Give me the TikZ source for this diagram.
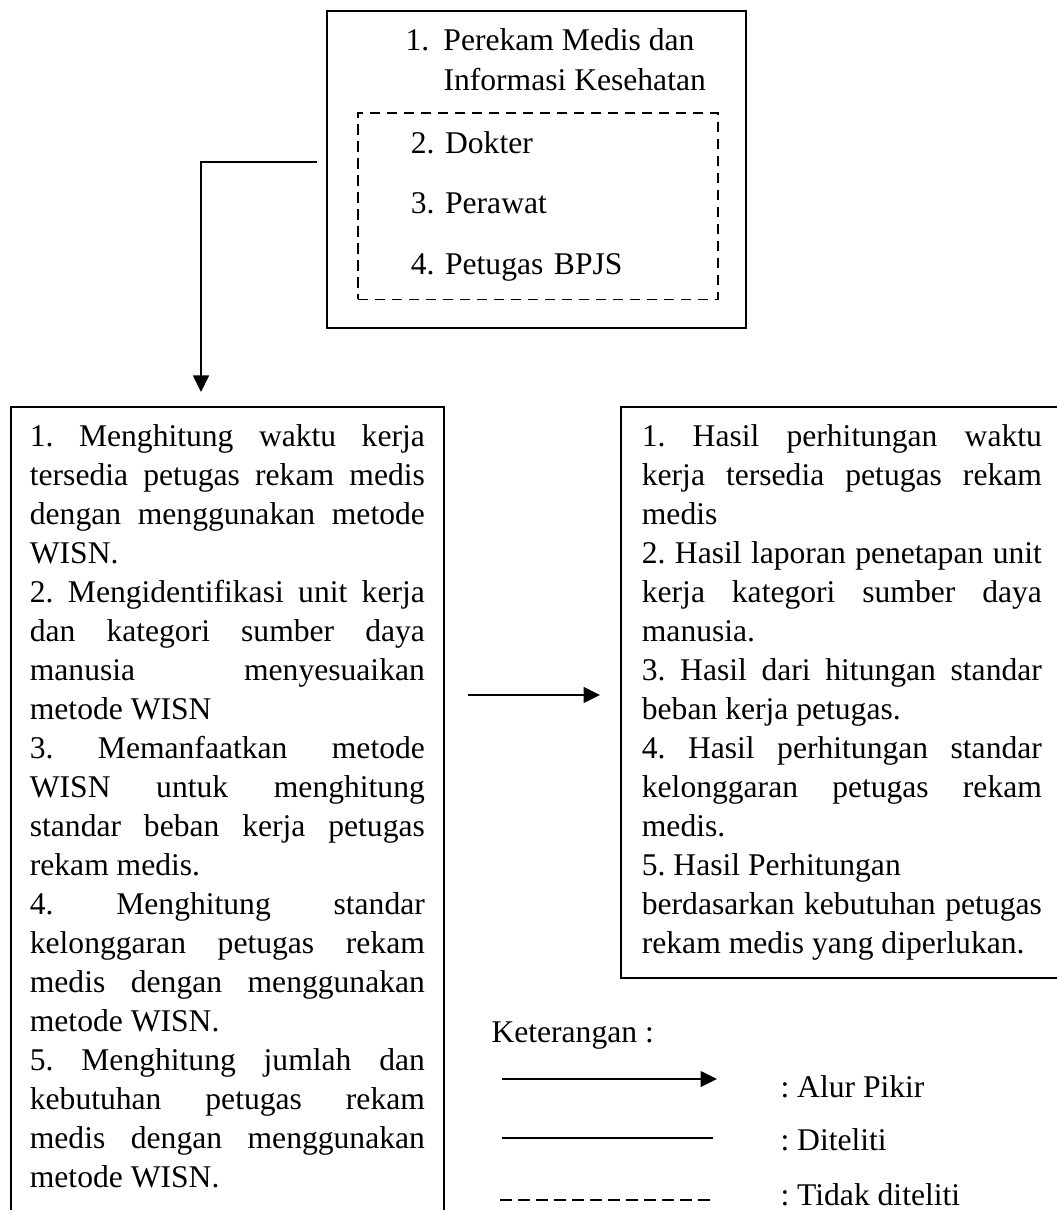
\documentclass[tikz,border=0pt]{standalone}
\usepackage{fontspec}
\setmainfont{Liberation Serif}
\usetikzlibrary{arrows.meta}
\setlength{\parindent}{0pt}
\frenchspacing
\hyphenpenalty=10000
\exhyphenpenalty=10000
\tolerance=10000
\hbadness=10000

\begin{document}
\begin{tikzpicture}[x=0.4pt, y=-0.4pt,
            box/.style={draw, line width=0.7pt},
            dashbox/.style={draw, line width=0.7pt, dash pattern=on 4.2pt off 2.6pt},
            listbox/.style={box, anchor=north west, align=justify, inner ysep=7pt},
            flow/.style={-{Triangle[length=6.6pt,width=6.2pt]}, line width=1.05pt},
            legtext/.style={anchor=base west, inner sep=0pt},
            every node/.append style={font=\fontsize{12.64pt}{15.6pt}\selectfont}]

\useasboundingbox (0,0) rectangle (1057,1210);

%top box
\node (topbox) at (536.5,169.5) [box, minimum width=167.6pt, minimum height=126.8pt] {};
\node (judul) at (405,28.4) [anchor=north west, inner sep=0pt, align=left,
      font=\fontsize{12.64pt}{16pt}\selectfont]
      {\makebox[15.2pt][l]{1.}Perekam Medis dan\\\hspace*{15.2pt}Informasi Kesehatan};
\node (dbox) at (357,112) [dashbox, anchor=north west, text width=101.6pt,
      inner xsep=21.2pt, inner ysep=7.36pt, align=left,
      font=\fontsize{12.64pt}{24.2pt}\selectfont]
      {2. Dokter\\3. Perawat\\4. Petugas BPJS};

%left box
\node (lbox) at (10,406) [listbox, text width=158pt, inner xsep=7.6pt]
      {1. Menghitung waktu kerja\linebreak
       tersedia petugas rekam medis\linebreak
       dengan menggunakan metode\linebreak
       WISN.\newline
       2. Mengidentifikasi unit kerja\linebreak
       dan kategori sumber daya\linebreak
       manusia menyesuaikan\linebreak
       metode WISN\newline
       3. Memanfaatkan metode\linebreak
       WISN untuk menghitung\linebreak
       standar beban kerja petugas\linebreak
       rekam medis.\newline
       4. Menghitung standar\linebreak
       kelonggaran petugas rekam\linebreak
       medis dengan menggunakan\linebreak
       metode WISN.\newline
       5. Menghitung jumlah dan\linebreak
       kebutuhan petugas rekam\linebreak
       medis dengan menggunakan\linebreak
       metode WISN.\strut};

%right box
\node (rbox) at (620,406) [listbox, text width=160pt, inner xsep=8.4pt]
      {1. Hasil perhitungan waktu\linebreak
       kerja tersedia petugas rekam\linebreak
       medis\newline
       2. Hasil laporan penetapan unit\linebreak
       kerja kategori sumber daya\linebreak
       manusia.\newline
       3. Hasil dari hitungan standar\linebreak
       beban kerja petugas.\newline
       4. Hasil perhitungan standar\linebreak
       kelonggaran petugas rekam\linebreak
       medis.\newline
       5. Hasil Perhitungan\newline
       berdasarkan kebutuhan petugas\linebreak
       rekam medis yang diperlukan.};

%arrows
\coordinate (belok) at (201,162);
\draw[flow, shorten <=3.6pt, shorten >=5.6pt] (belok -| topbox.west) -- (belok) -- (belok |- lbox.north);
\coordinate (tengah) at (0,695);
\draw[flow, shorten <=9.2pt, shorten >=8pt] (lbox.east |- tengah) -- (rbox.west |- tengah);

%keterangan
\node (ket) at (491,1042) [legtext] {Keterangan :};
\node (alur) at (780,1097) [legtext] {: Alur Pikir};
\node (teliti) at (780,1150) [legtext] {: Diteliti};
\node (tidak) at (780,1205) [legtext] {: Tidak diteliti};
\coordinate (alurA) at (502,1079);
\coordinate (alurB) at (717,1079);
\coordinate (telitiA) at (502,1138);
\coordinate (telitiB) at (713,1138);
\coordinate (tidakA) at (500,1200);
\coordinate (tidakB) at (712,1200);
\draw[flow] (alurA) -- (alurB);
\draw[line width=0.95pt] (telitiA) -- (telitiB);
\draw[line width=0.95pt, dash pattern=on 4.6pt off 2.6pt] (tidakA) -- (tidakB);

\end{tikzpicture}
\end{document}
